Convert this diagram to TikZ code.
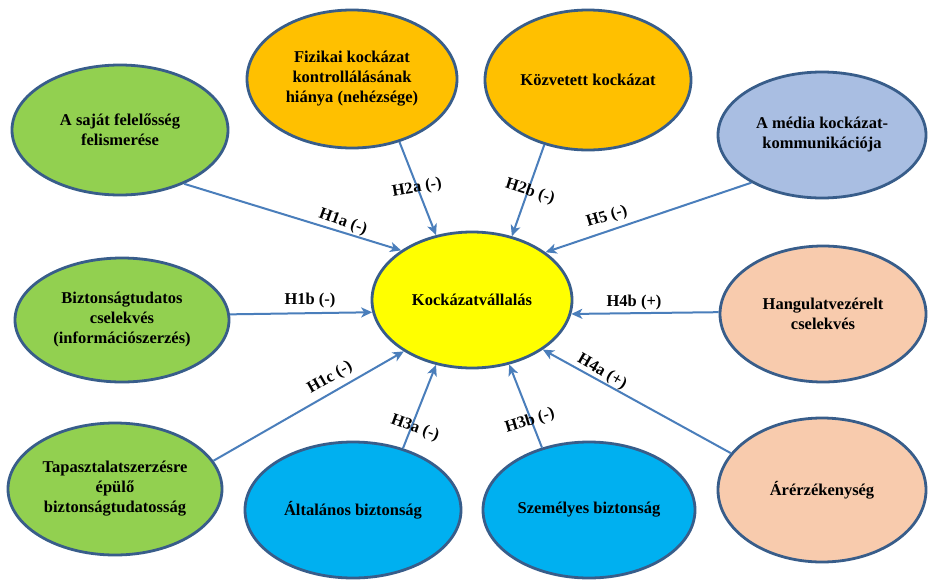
\documentclass[tikz,border=0pt]{standalone}
\usepackage{fontspec}
\setmainfont{Liberation Serif}
\usetikzlibrary{shapes.geometric,arrows.meta}
\definecolor{bord}{HTML}{385D8A}
\definecolor{connblue}{HTML}{4A7EBB}
\definecolor{cgreen}{HTML}{92D050}
\definecolor{corange}{HTML}{FFC000}
\definecolor{cmedia}{HTML}{A9BEE2}
\definecolor{cyellow}{HTML}{FFFF00}
\definecolor{cpeach}{HTML}{F8CBAD}
\definecolor{ccyan}{HTML}{00B0F0}
\begin{document}
\begin{tikzpicture}[x=1pt,y=-1pt,
  ell/.style={ellipse, draw=bord, line width=2.8pt, inner sep=0pt, align=center,
    font=\fontsize{16.5}{20}\selectfont\bfseries},
  arrowline/.style={draw=connblue, line width=2pt,
    -{Stealth[length=11pt,width=10pt,inset=3pt]}},
  lab/.style={font=\fontsize{16.5}{20}\selectfont\bfseries, inner sep=0pt}]
\useasboundingbox (0,0) rectangle (928,581);
\fill[white] (0,0) rectangle (928,581);

% nodes
\node[ell, fill=cgreen, minimum width=216pt, minimum height=130pt] (g1) at (120,130) {A saját felelősség\\felismerése};
\node[ell, fill=corange, minimum width=210pt, minimum height=138pt] (o1) at (352,79) {Fizikai kockázat\\kontrollálásának\\hiánya (nehézsége)};
\node[ell, fill=corange, minimum width=206pt, minimum height=140pt] (o2) at (588,80) {Közvetett kockázat};
\node[ell, fill=cmedia, minimum width=208pt, minimum height=126pt] (m) at (822,135) {A média kockázat-\\kommunikációja};
\node[ell, fill=cgreen, minimum width=214pt, minimum height=124pt] (g2) at (122,320) {Biztonságtudatos\\cselekvés\\(információszerzés)};
\node[ell, fill=cyellow, minimum width=200pt, minimum height=136pt] (y) at (472,300) {Kockázatvállalás};
\node[ell, fill=cpeach, minimum width=206pt, minimum height=136pt] (p1) at (823,314) {Hangulatvezérelt\\cselekvés};
\node[ell, fill=cgreen, minimum width=214pt, minimum height=132pt] (g3) at (115,489) {Tapasztalatszerzésre\\épülő\\biztonságtudatosság};
\node[ell, fill=ccyan, minimum width=216pt, minimum height=136pt] (c1) at (353,510) {Általános biztonság};
\node[ell, fill=ccyan, minimum width=212pt, minimum height=136pt] (c2) at (589,510) {Személyes biztonság};
\node[ell, fill=cpeach, minimum width=208pt, minimum height=144pt] (p2) at (822,490) {Árérzékenység};

% connectors
\draw[arrowline] (g1.320.8) -- (y.145.2);
\draw[arrowline] (o1.307.1) -- (y.119.1);
\draw[arrowline] (o2.236.1) -- (y.58.9);
\draw[arrowline] (m.214) -- (y.33.7);
\draw[arrowline] (g2.3.8) -- (y.187.5);
\draw[arrowline] (p1.179.4) -- (y.352.6);
\draw[arrowline] (g3.16.5) -- (y.217.8);
\draw[arrowline] (c1.51.7) -- (y.241.1);
\draw[arrowline] (c2.127.9) -- (y.300.8);
\draw[arrowline] (p2.158.7) -- (y.325.6);

% labels
\node[lab, rotate=-20] (l1a) at (343,222) {H1a (-)};
\node[lab, rotate=10] (l2a) at (417,188) {H2a (-)};
\node[lab, rotate=-18] (l2b) at (530,192) {H2b (-)};
\node[lab, rotate=17] (l5) at (607,217) {H5 (-)};
\node[lab] (l1b) at (310,301) {H1b (-)};
\node[lab] (l4b) at (634,303) {H4b (+)};
\node[lab, rotate=30] (l1c) at (330,378) {H1c (-)};
\node[lab, rotate=-20] (l3a) at (415,428) {H3a (-)};
\node[lab, rotate=17] (l3b) at (530,421) {H3b (-)};
\node[lab, rotate=-30] (l4a) at (602,372) {H4a (+)};
\end{tikzpicture}
\end{document}
